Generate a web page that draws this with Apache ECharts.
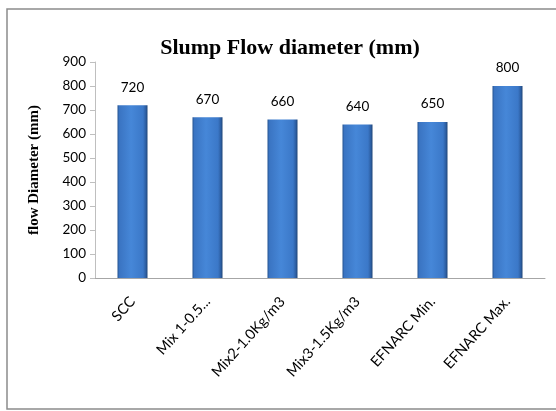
<!DOCTYPE html>
<html>
<head>
<meta charset="utf-8">
<script src="https://cdn.jsdelivr.net/npm/echarts@6/dist/echarts.min.js"></script>
<style>
html,body{margin:0;padding:0;background:#fff;}
#c{width:556px;height:411px;}
</style>
</head>
<body>
<div id="c"></div>
<script>
var categories = ['SCC', 'Mix 1-0.5...', 'Mix2-1.0Kg/m3', 'Mix3-1.5Kg/m3', 'EFNARC Min.', 'EFNARC Max.'];
var flowDiameter = [720, 670, 660, 640, 650, 800];
var yTicks = [0, 100, 200, 300, 400, 500, 600, 700, 800, 900];

var chart = echarts.init(document.getElementById('c'), null, {renderer: 'canvas'});
var barColor = new echarts.graphic.LinearGradient(0, 0, 1, 0, [
  {offset: 0, color: '#24528f'},
  {offset: 0.06, color: '#3a74c2'},
  {offset: 0.45, color: '#4687d8'},
  {offset: 0.85, color: '#3b78c8'},
  {offset: 0.94, color: '#2d5fa3'},
  {offset: 1, color: '#1f4578'}
]);
chart.setOption({
  animation: false,
  backgroundColor: '#ffffff',
  graphic: [{
    type: 'rect',
    shape: {x: 7, y: 9, width: 560, height: 400},
    style: {fill: 'none', stroke: '#8c8c8c', lineWidth: 1.5},
    silent: true,
    z: -1
  }],
  title: {
    text: 'Slump Flow diameter (mm)',
    left: 285,
    top: 32,
    textAlign: 'center',
    textStyle: {fontFamily: 'Liberation Serif', fontWeight: 'bold', fontSize: 22, color: '#000'}
  },
  grid: {left: 95, right: 11, top: 62, bottom: 133},
  xAxis: {
    type: 'category',
    data: categories,
    axisLine: {lineStyle: {color: '#a6a6a6', width: 1}},
    axisTick: {show: false},
    axisLabel: {
      rotate: 48,
      margin: 21,
      interval: 0,
      fontFamily: 'Lato',
      fontSize: 14.5,
      color: '#000'
    }
  },
  yAxis: {
    type: 'value',
    min: yTicks[0],
    max: yTicks[yTicks.length - 1],
    interval: 100,
    name: 'flow Diameter (mm)',
    nameLocation: 'middle',
    nameGap: 53,
    nameTextStyle: {fontFamily: 'Liberation Serif', fontWeight: 'bold', fontSize: 15, color: '#000'},
    axisLine: {show: true, lineStyle: {color: '#bfbfbf'}},
    axisTick: {show: true, length: 5, inside: false, lineStyle: {color: '#bfbfbf'}},
    splitLine: {show: false},
    axisLabel: {fontFamily: 'Lato', fontSize: 13.5, color: '#000', margin: 9}
  },
  series: [{
    type: 'bar',
    data: flowDiameter,
    barWidth: 30,
    itemStyle: {color: barColor},
    label: {
      show: true,
      position: 'top',
      distance: 11,
      fontFamily: 'Lato',
      fontSize: 13.5,
      color: '#000'
    }
  }]
});
</script>
</body>
</html>
